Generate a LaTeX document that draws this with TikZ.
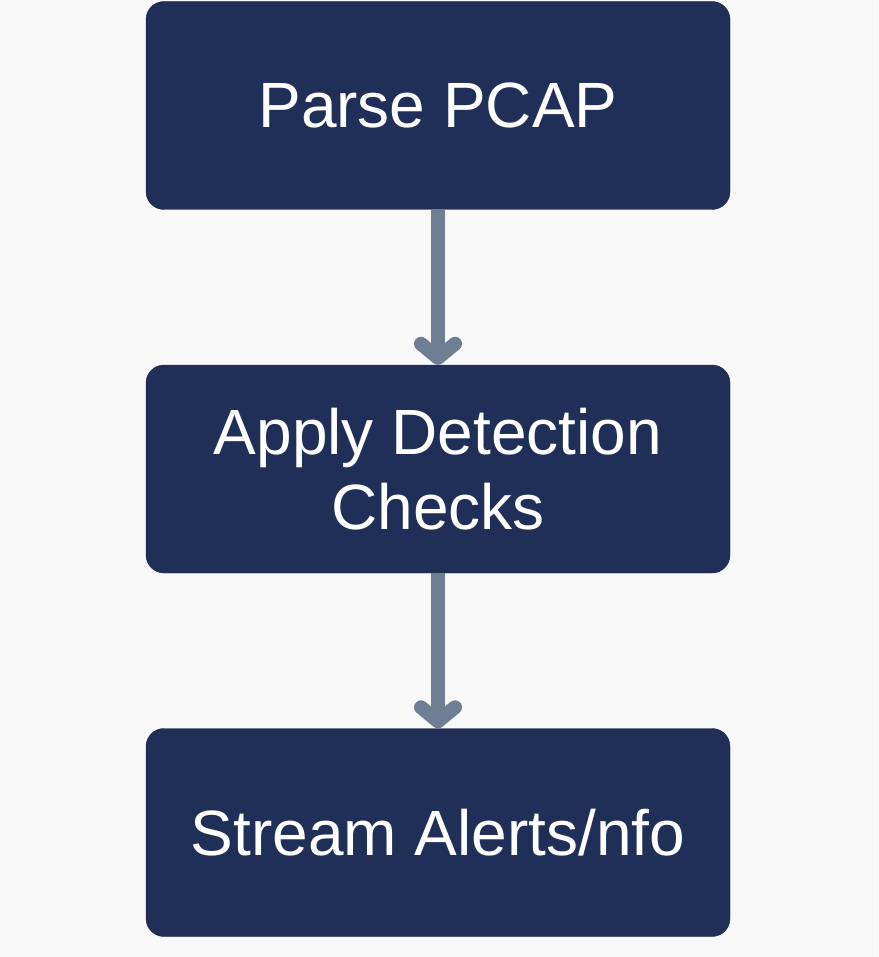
\documentclass[tikz,border=0pt]{standalone}
\usepackage{fontspec}
\setmainfont{Liberation Sans}
\usetikzlibrary{arrows.meta}

\definecolor{boxblue}{HTML}{1F2F57}
\definecolor{arrowgray}{HTML}{6E7F94}
\definecolor{bggray}{HTML}{F8F8F8}

\tikzset{
  stage/.style={draw=boxblue!75!black, fill=boxblue, rounded corners=18pt,
    minimum width=584pt, minimum height=208pt, inner sep=0pt,
    text=white, align=center, font=\fontsize{64}{75}\selectfont},
  flow/.style={draw=arrowgray, line width=14pt,
    -{Straight Barb[length=14pt, width=34pt, round]}}
}

\begin{document}
\begin{tikzpicture}[x=1pt, y=-1pt]
    % Background and page size
    \fill[bggray] (0,0) rectangle (878,957);
    \useasboundingbox (0,0) rectangle (878,957);

    % Stages
    \node[stage] (parse) at (438,105.5) {Parse PCAP};
    \node[stage] (detect) at (438,469) {Apply Detection\\Checks};
    \node[stage] (alerts) at (438,832.5) {Stream Alerts/nfo};

    % Arrows
    \draw[flow] (parse) -- (detect);
    \draw[flow] (detect) -- (alerts);
\end{tikzpicture}
\end{document}
